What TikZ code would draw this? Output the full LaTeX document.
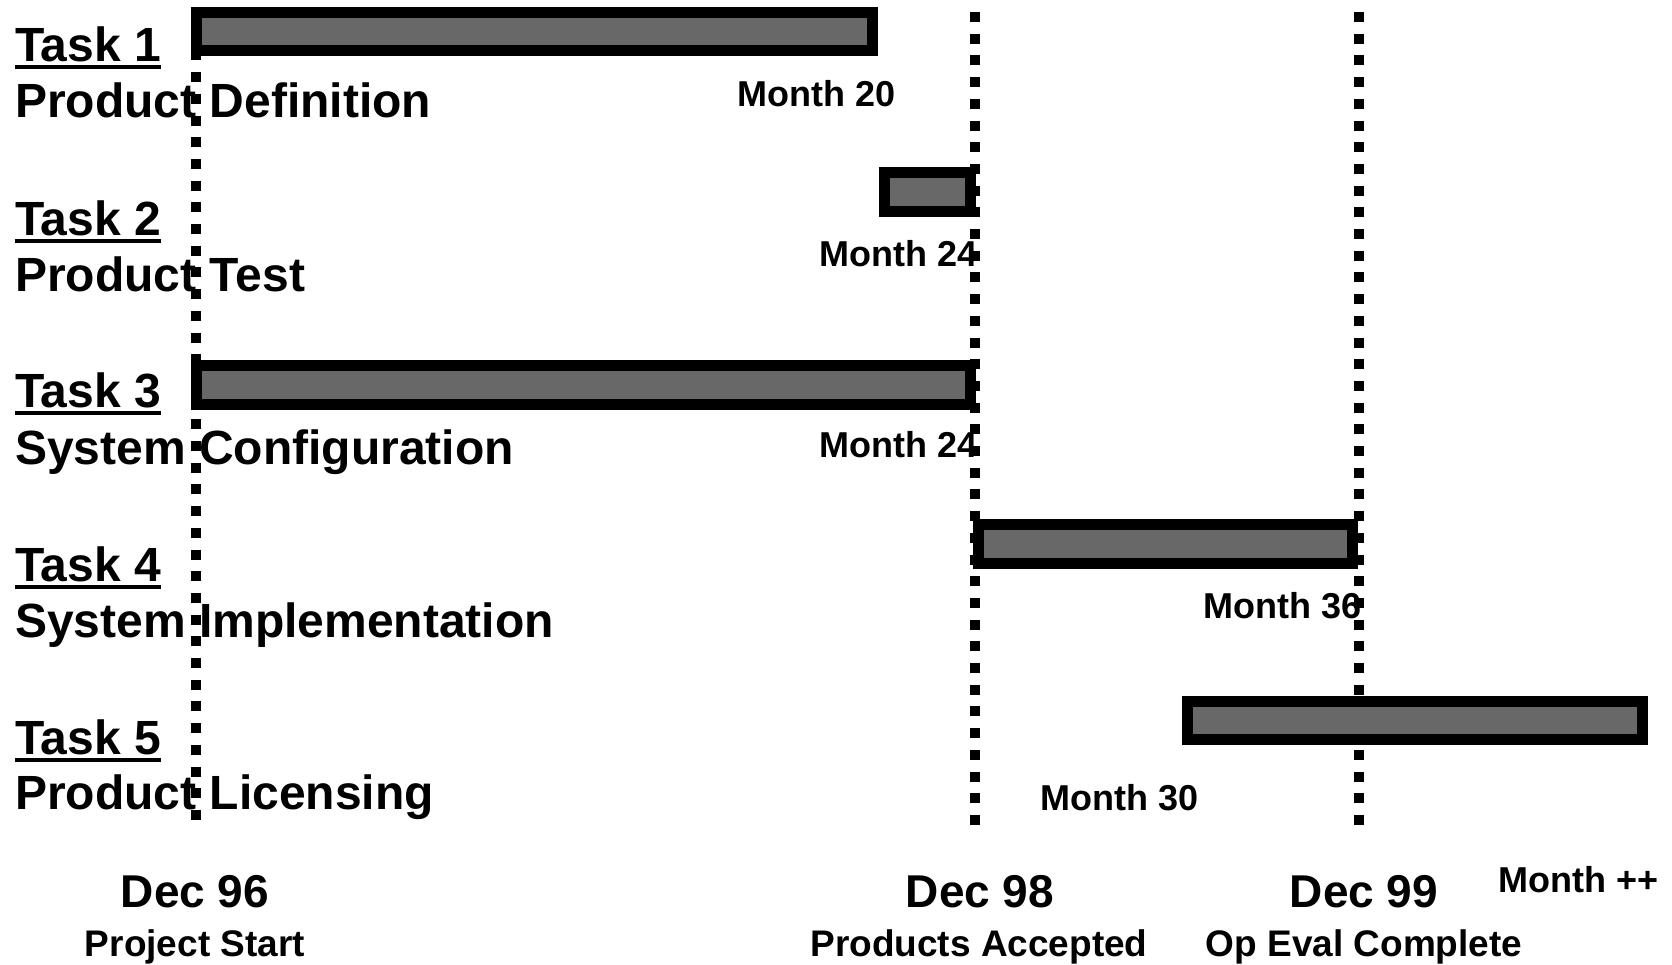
\documentclass[tikz,border=0pt]{standalone}
\usepackage{fontspec}
\setmainfont{Liberation Sans}
\definecolor{barg}{HTML}{686868}
\begin{document}
\begin{tikzpicture}[x=1pt,y=-1pt,
  bar/.style={draw=black, line width=11pt, fill=barg},
  milestone/.style={line width=10pt, dash pattern=on 10pt off 11.7pt},
  tasklbl/.style={font=\fontsize{48}{56}\selectfont\bfseries, inner sep=0pt, anchor=base west},
  monthlbl/.style={font=\fontsize{36}{42}\selectfont\bfseries, inner sep=0pt},
  datelbl/.style={font=\fontsize{46}{54}\selectfont\bfseries, inner sep=0pt, anchor=base},
  sublbl/.style={font=\fontsize{37}{44}\selectfont\bfseries, inner sep=0pt, anchor=base},
  uline/.style={line width=3.5pt}]
\useasboundingbox (0,0) rectangle (1672,964);
% milestone lines
\coordinate (m1t) at (195.7,7); \coordinate (m1b) at (195.7,828);
\coordinate (m2t) at (975,12); \coordinate (m2b) at (975,828);
\coordinate (m3t) at (1359,12); \coordinate (m3b) at (1359,828);
\draw[milestone] (m1t) -- (m1b);
\draw[milestone] (m2t) -- (m2b);
\draw[milestone] (m3t) -- (m3b);
% bars
\draw[bar] (196,12) rectangle (872.5,50);
\draw[bar] (884,172) rectangle (970,211);
\draw[bar] (196,365.5) rectangle (970,404.5);
\draw[bar] (978,524.5) rectangle (1352,563.5);
\draw[bar] (1187.5,701.5) rectangle (1642.5,739);
% task labels
\node[tasklbl] (t1) at (15,61) {Task 1};
\node[tasklbl] (n1) at (15,117) {Product Definition};
\node[tasklbl] (t2) at (15,235) {Task 2};
\node[tasklbl] (n2) at (15,291) {Product Test};
\node[tasklbl] (t3) at (15,407) {Task 3};
\node[tasklbl] (n3) at (15,464) {System Configuration};
\node[tasklbl] (t4) at (15,581) {Task 4};
\node[tasklbl] (n4) at (15,637) {System Implementation};
\node[tasklbl] (t5) at (15,754) {Task 5};
\node[tasklbl] (n5) at (15,809) {Product Licensing};
\foreach \t in {t1,t2,t3,t4,t5}
  \draw[uline] ([yshift=-6pt]\t.base west) -- ([yshift=-6pt]\t.base east);
% month labels
\node[monthlbl, anchor=base east] (mo20) at (896,106) {Month 20};
\node[monthlbl, anchor=base east] (mo24a) at (978,266) {Month 24};
\node[monthlbl, anchor=base east] (mo24b) at (978,457) {Month 24};
\node[monthlbl, anchor=base east] (mo36) at (1362,618) {Month 36};
\node[monthlbl, anchor=base west] (mo30) at (1040,810) {Month 30};
\node[monthlbl, anchor=base west] (mopp) at (1498,892) {Month ++};
% dates
\node[datelbl] (d96) at (195,907) {Dec 96};
\node[sublbl] (s96) at (195,956) {Project Start};
\node[datelbl] (d98) at (980,907) {Dec 98};
\node[sublbl] (s98) at (979,956) {Products Accepted};
\node[datelbl] (d99) at (1364,907) {Dec 99};
\node[sublbl] (s99) at (1364,956) {Op Eval Complete};
\end{tikzpicture}
\end{document}
